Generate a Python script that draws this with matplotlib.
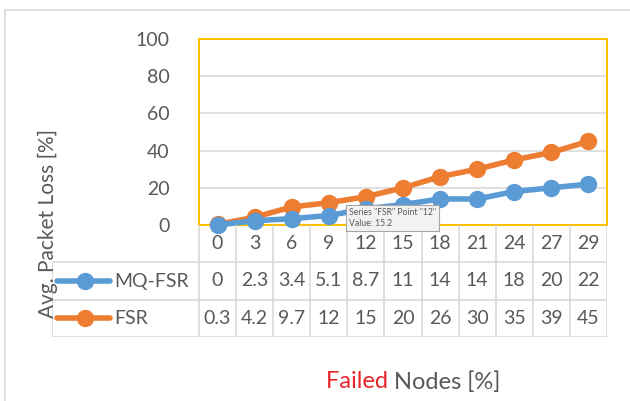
import matplotlib.pyplot as plt
import matplotlib.patches as patches
import numpy as np

# data
failed_nodes = ["0", "3", "6", "9", "12", "15", "18", "21", "24", "27", "29"]
mq_fsr = [0, 2.3, 3.4, 5.1, 8.7, 11, 14, 14, 18, 20, 22]
fsr = [0.3, 4.2, 9.7, 12, 15.2, 20, 26, 30, 35, 39, 45]
mq_fsr_labels = ["0", "2.3", "3.4", "5.1", "8.7", "11", "14", "14", "18", "20", "22"]
fsr_labels = ["0.3", "4.2", "9.7", "12", "15", "20", "26", "30", "35", "39", "45"]
y_ticks = [0, 20, 40, 60, 80, 100]

series = [("MQ-FSR", mq_fsr, mq_fsr_labels, "#5B9BD5"),
          ("FSR", fsr, fsr_labels, "#ED7D31")]

plt.rcParams['font.family'] = ['Lato', 'DejaVu Sans']
txt_col = "#595959"
grid_col = "#D9D9D9"

W, H = 630, 401
fig = plt.figure(figsize=(W / 100, H / 100), dpi=100)

def fx(px):
    return px / W

def fy(py):
    return 1 - py / H

# outer chart border (cut off on right/bottom)
fig.patches.append(patches.Rectangle((fx(5), -0.2), 1.2, fy(10) + 0.2, transform=fig.transFigure,
                                     fill=False, edgecolor=grid_col, lw=1.2))

x = np.arange(len(failed_nodes))

# ---- main plot ----
ax = fig.add_axes([fx(199), fy(225), fx(607) - fx(199), fy(39) - fy(225)])
ax.set_xlim(-0.5, len(failed_nodes) - 0.5)
ax.set_ylim(0, 100)
ax.set_yticks(y_ticks)
ax.set_xticks([])
ax.tick_params(axis='y', length=0, pad=21, labelsize=14, labelcolor=txt_col)
for s in ax.spines.values():
    s.set_color("#FFC000")
    s.set_linewidth(1.5)
for t in y_ticks[1:-1]:
    ax.axhline(t, color=grid_col, lw=1.2, zorder=0)

for name, vals, _, col in series[::-1]:
    ax.plot(x, vals, color=col, lw=4, marker='o', ms=11.5, clip_on=False, zorder=5)

# ---- data table under the plot ----
col_w = (607 - 199) / len(failed_nodes)
left_px = 52
x0 = -0.5 - (199 - left_px) / col_w
tab = fig.add_axes([fx(left_px), fy(337), fx(607) - fx(left_px), fy(225) - fy(337)])
tab.set_xlim(x0, len(failed_nodes) - 0.5)
tab.set_ylim(3, 0)
tab.axis('off')

edges = np.arange(len(failed_nodes) + 1) - 0.5
for e in edges:
    tab.plot([e, e], [0, 3], color=grid_col, lw=1.2)
tab.plot([x0, x0], [1, 3], color=grid_col, lw=1.2)
for r in [1, 2, 3]:
    tab.plot([x0, edges[-1]], [r, r], color=grid_col, lw=1.2)

for i, lab in enumerate(failed_nodes):
    tab.text(i, 0.5, lab, ha='center', va='center', fontsize=14, color=txt_col)

for r, (name, vals, labels, col) in enumerate(series, start=1):
    for i, lab in enumerate(labels):
        tab.text(i, r + 0.5, lab, ha='center', va='center', fontsize=14, color=txt_col)
    # legend key
    tab.plot([x0 + 0.14, x0 + 1.56], [r + 0.5, r + 0.5], color=col, lw=4, solid_capstyle='round')
    tab.plot([x0 + 0.88], [r + 0.5], 'o', color=col, ms=11.5)
    tab.text(x0 + 1.68, r + 0.5, name, ha='left', va='center', fontsize=14, color=txt_col)

# ---- axis titles ----
fig.text(fx(48), fy(224), "Avg. Packet Loss [%]", rotation=90, ha='center', va='center',
         fontsize=15, color=txt_col)
t1 = fig.text(fx(326), fy(382), "Failed ", ha='left', va='center', fontsize=17, color="#E8242A")
ax.annotate("Nodes [%]", xy=(1, 0), xycoords=t1, ha='left', va='bottom',
            fontsize=17, color=txt_col)

# ---- hover tooltip ----
fig.text(fx(349), fy(218), 'Series "FSR" Point "12"\nValue: 15.2', ha='left', va='center',
         fontsize=6.2, color=txt_col, linespacing=1.3, zorder=20,
         bbox=dict(boxstyle='square,pad=0.35', fc="#F2F2F2", ec="#A6A6A6", lw=0.8))

fig.savefig("out.png", dpi=100)
